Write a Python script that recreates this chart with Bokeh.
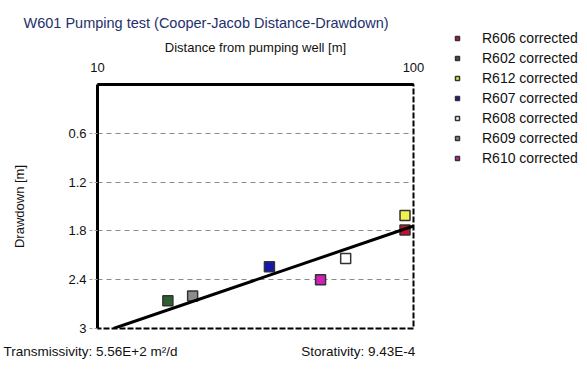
from bokeh.plotting import figure
from bokeh.models import Range1d, FixedTicker, CustomJSTickFormatter, Title
from bokeh.layouts import row, column
from bokeh.embed import file_html
from bokeh.resources import INLINE

# ---- data ----
wells = ["R606 corrected", "R602 corrected", "R612 corrected", "R607 corrected",
         "R608 corrected", "R609 corrected", "R610 corrected"]
distance = [94.0, 16.7, 94.0, 35.0, 61.0, 20.0, 50.8]
drawdown = [1.79, 2.66, 1.61, 2.24, 2.14, 2.60, 2.40]
colors = ["#c8102e", "#2f5f2f", "#f0f050", "#1515b0", "#ffffff", "#8c8c8c", "#d020b8"]

fit_distance = [11.24, 100.0]
fit_drawdown = [3.0, 1.74]

x_ticks = [10, 100]
y_ticks = [0.6, 1.2, 1.8, 2.4, 3.0]

title_text = "W601 Pumping test (Cooper-Jacob Distance-Drawdown)"
trans_text = "Transmissivity: 5.56E+2 m\u00b2/d"
stor_text = "Storativity: 9.43E-4"

FONT = "Liberation Sans"

p = figure(width=440, height=374, output_backend="svg", toolbar_location=None,
           x_axis_type="log", x_axis_location="above",
           x_range=Range1d(10, 100), y_range=Range1d(3, 0),
           min_border_left=97, min_border_right=27, min_border_top=84,
           min_border_bottom=46)
p.background_fill_color = "white"
p.border_fill_color = "white"
p.outline_line_color = "black"
p.outline_line_width = 2
p.outline_line_dash = "6 2"

# title (top)
t = Title(text=title_text, align="left", offset=-74, standoff=12,
          text_font=FONT, text_font_size="14.5px", text_font_style="normal",
          text_color="#23306b")
p.add_layout(t, "above")

# bottom text line
gap = "\u00a0" * 33
b = Title(text=trans_text + gap + stor_text, align="left", offset=-94, standoff=26,
          text_font=FONT, text_font_size="13.5px", text_font_style="normal",
          text_color="#111111")
p.add_layout(b, "below")

# x axis (top)
xa = p.xaxis[0]
xa.ticker = FixedTicker(ticks=x_ticks)
xa.formatter = CustomJSTickFormatter(code="return tick.toFixed(0);")
xa.axis_label = "Distance from pumping well [m]"
xa.axis_label_text_font = FONT
xa.axis_label_text_font_size = "13px"
xa.axis_label_text_font_style = "normal"
xa.axis_label_text_color = "#111111"
xa.axis_label_standoff = 5
xa.major_label_text_font = FONT
xa.major_label_text_font_size = "13px"
xa.major_label_text_color = "#111111"
xa.major_label_standoff = 13
xa.axis_line_color = "black"
xa.axis_line_width = 3
xa.major_tick_out = 0
xa.major_tick_in = 0
xa.minor_tick_out = 0
xa.minor_tick_in = 0

# y axis (left)
ya = p.yaxis[0]
ya.ticker = FixedTicker(ticks=y_ticks)
ya.formatter = CustomJSTickFormatter(code="return tick > 2.99 ? '3' : tick.toFixed(1);")
ya.axis_label = "Drawdown [m]"
ya.axis_label_text_font = FONT
ya.axis_label_text_font_size = "13px"
ya.axis_label_text_font_style = "normal"
ya.axis_label_text_color = "#111111"
ya.axis_label_standoff = 38
ya.major_label_text_font = FONT
ya.major_label_text_font_size = "13px"
ya.major_label_text_color = "#111111"
ya.major_label_standoff = 3
ya.axis_line_color = "black"
ya.axis_line_width = 3
ya.major_tick_out = 8
ya.major_tick_in = 0
ya.major_tick_line_color = "#999999"
ya.major_tick_line_dash = "3 2"
ya.minor_tick_out = 0
ya.minor_tick_in = 0

p.xgrid.grid_line_color = None
p.ygrid.ticker = FixedTicker(ticks=y_ticks)
p.ygrid.grid_line_color = "#8a8a8a"
p.ygrid.grid_line_dash = "5 4"
p.ygrid.grid_line_width = 1

# data points
for name, d, s, c in zip(wells, distance, drawdown, colors):
    p.scatter([d], [s], marker="square", size=10, fill_color=c,
              line_color="#333333", line_width=1.5)

# fitted line
p.line(fit_distance, fit_drawdown, line_color="black", line_width=3)

# legend panel (separate figure to the right; its own points lie outside its range)
pl = figure(width=147, height=374, output_backend="svg", toolbar_location=None,
            x_range=Range1d(0, 1), y_range=Range1d(0, 1),
            min_border_left=0, min_border_right=0, min_border_top=0,
            min_border_bottom=0)
pl.axis.visible = False
pl.grid.visible = False
pl.outline_line_color = None
pl.background_fill_color = "white"
pl.border_fill_color = "white"
for name, d, s, c in zip(wells, distance, drawdown, colors):
    pl.scatter([d], [s], marker="square", size=10, fill_color=c,
               line_color="#333333", line_width=1.5, legend_label=name)

lg = pl.legend[0]
lg.location = (12, 208)
lg.padding = 0
lg.margin = 0
lg.spacing = 4
lg.label_height = 15
lg.glyph_height = 10
lg.glyph_width = 10
lg.label_standoff = 20
lg.label_text_font = FONT
lg.label_text_font_size = "14px"
lg.label_text_color = "#111111"
lg.border_line_color = None
lg.background_fill_alpha = 0

layout = row(p, column(pl))
open("out.html", "w").write(file_html(layout, INLINE))
